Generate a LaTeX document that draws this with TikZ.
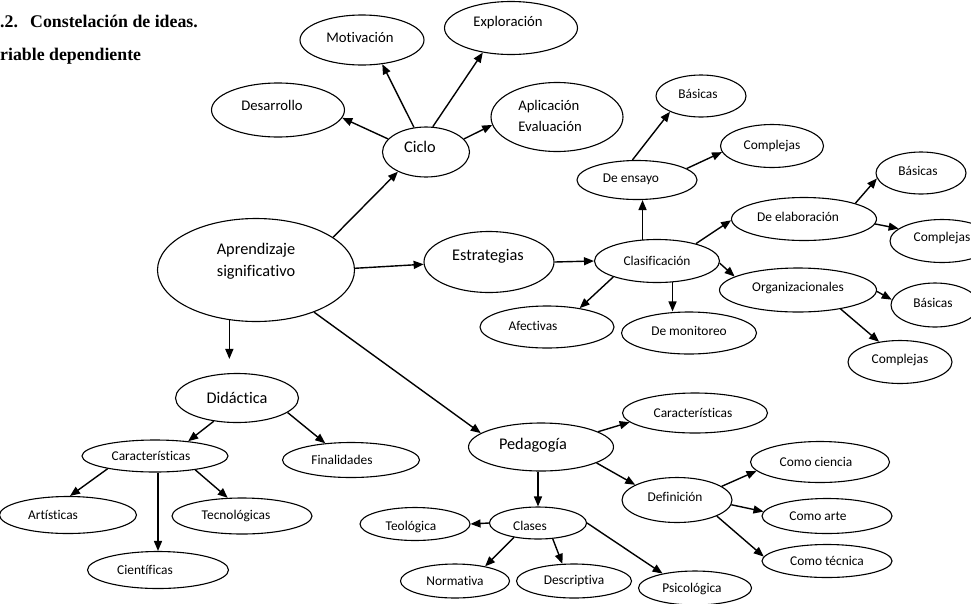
\documentclass[tikz,border=0pt]{standalone}
\usepackage{fontspec}
\setmainfont{Carlito}[Ligatures={NoCommon}]
\newfontfamily\titlefont{Liberation Serif}
\usetikzlibrary{shapes.geometric,arrows.meta}
\newcommand\txtsh[3]{\raisebox{#2pt}[\height][\depth]{\hspace*{#1pt}#3\hspace*{-#1pt}}}
\tikzset{
  el/.style={draw, ellipse, line width=1.1pt, inner sep=0pt},
  fb/.style={font=\fontsize{16.3}{22}\selectfont},
  fm/.style={font=\fontsize{14.7}{21}\selectfont},
  fs/.style={font=\fontsize{13.4}{16}\selectfont},
  ttl/.style={anchor=base west, inner sep=0pt, font=\titlefont\bfseries\fontsize{17.8}{20}\selectfont},
  arr/.style={-{Triangle[length=10pt,width=8pt]}, line width=1.4pt},
}
\begin{document}
\begin{tikzpicture}[x=1pt,y=-1pt]
\useasboundingbox (0,0) rectangle (971,603);
% title
\node[ttl] (t1a) at (0,27) {.2.};
\node[ttl] (t1b) at (30,27) {Constelación de ideas.};
\node[ttl] (t2) at (0,60) {riable dependiente};
% ciclo branch
\node[el,fm,minimum width=124,minimum height=50] (mot) at (362,40) {\txtsh{-2}{3}{Motivación}};
\node[el,fm,minimum width=133,minimum height=53] (exp) at (511,28) {\txtsh{-3}{5}{Exploración}};
\node[el,fm,minimum width=133,minimum height=54] (des) at (278,110) {\txtsh{-6}{5}{Desarrollo}};
\node[el,fm,minimum width=132,minimum height=69] (apl) at (557,117) {\txtsh{-7}{0}{\begin{tabular}{@{}l@{}}Aplicación\\Evaluación\end{tabular}}};
\node[el,fb,minimum width=87,minimum height=50] (cic) at (426,152) {\txtsh{-6}{5}{Ciclo}};
% central
\node[el,fb,minimum width=197,minimum height=103] (apr) at (256,270) {\txtsh{0}{9}{\begin{tabular}{@{}c@{}}Aprendizaje\\significativo\end{tabular}}};
% estrategias branch
\node[el,fb,minimum width=130,minimum height=61] (est) at (489,262) {\txtsh{-1}{6}{Estrategias}};
\node[el,fs,minimum width=125,minimum height=43] (cla) at (657,261) {Clasificación};
\node[el,fs,minimum width=120,minimum height=39] (ens) at (637,180) {\txtsh{-6}{1}{De ensayo}};
\node[el,fs,minimum width=90,minimum height=42] (bas1) at (701,96) {\txtsh{-3}{2}{Básicas}};
\node[el,fs,minimum width=103,minimum height=43] (com1) at (772,146) {Complejas};
\node[el,fs,minimum width=145,minimum height=43] (ela) at (804,219) {\txtsh{-6}{2}{De elaboración}};
\node[el,fs,minimum width=90,minimum height=42] (bas2) at (921,173) {\txtsh{-3}{2}{Básicas}};
\node[el,fs,minimum width=104,minimum height=43] (com2) at (942,241) {\txtsh{0}{3}{Complejas}};
\node[el,fs,minimum width=157,minimum height=44] (org) at (798,290) {\txtsh{0}{2}{Organizacionales}};
\node[el,fs,minimum width=88,minimum height=44] (bas3) at (935,305) {\txtsh{-2}{2}{Básicas}};
\node[el,fs,minimum width=104,minimum height=43] (com3) at (900,362) {\txtsh{0}{2}{Complejas}};
\node[el,fs,minimum width=134,minimum height=42] (afe) at (547,327) {\txtsh{-14}{1}{Afectivas}};
\node[el,fs,minimum width=135,minimum height=42] (mon) at (689,333) {\txtsh{0}{2}{De monitoreo}};
% didactica branch
\node[el,fb,minimum width=123,minimum height=49] (did) at (237,398) {Didáctica};
\node[el,fs,minimum width=146,minimum height=32] (car1) at (155,456) {\txtsh{-4}{0}{Características}};
\node[el,fs,minimum width=137,minimum height=35] (fin) at (351,460) {\txtsh{-9}{0}{Finalidades}};
\node[el,fs,minimum width=137,minimum height=37] (art) at (68,515) {\txtsh{-15}{0}{Artísticas}};
\node[el,fs,minimum width=140,minimum height=36] (tec) at (242,516) {\txtsh{-6}{0}{Tecnológicas}};
\node[el,fs,minimum width=141,minimum height=37] (cie) at (158,570) {\txtsh{-13}{0}{Científicas}};
% pedagogia branch
\node[el,fb,minimum width=145,minimum height=48] (ped) at (541,447) {\txtsh{-8}{2}{Pedagogía}};
\node[el,fs,minimum width=145,minimum height=40] (car2) at (695,413) {\txtsh{-2}{0}{Características}};
\node[el,fs,minimum width=110,minimum height=45] (defn) at (677,500) {\txtsh{-2}{3}{Definición}};
\node[el,fs,minimum width=97,minimum height=32] (cla2) at (538,523) {\txtsh{-8}{-3}{Clases}};
\node[el,fs,minimum width=110,minimum height=33] (teo) at (415,524) {\txtsh{-4}{-3}{Teológica}};
\node[el,fs,minimum width=109,minimum height=34] (nor) at (455,581) {Normativa};
\node[el,fs,minimum width=115,minimum height=34] (dsc) at (574,581) {Descriptiva};
\node[el,fs,minimum width=113,minimum height=34] (psi) at (695,588) {\txtsh{-3}{-1}{Psicológica}};
\node[el,fs,minimum width=139,minimum height=41] (cc) at (820,462) {\txtsh{-4}{0}{Como ciencia}};
\node[el,fs,minimum width=130,minimum height=35] (ca) at (827,516) {\txtsh{-9}{0}{Como arte}};
\node[el,fs,minimum width=130,minimum height=33] (ct) at (827,561) {Como técnica};
% connectors: ciclo
\draw[arr] (cic.161) -- (des.-7);
\draw[arr] (cic.116) -- (mot.-50);
\draw[arr] (cic.75) -- (exp.-139);
\draw[arr] (cic.19) -- (apl.-173);
% central
\draw[arr] (apr.23) -- (cic.-145);
\draw[arr] (apr.1) -- (est.-178);
\draw[arr] (apr.-36) -- (ped.167);
\draw[arr, shorten >=14pt] (apr.-118) -- (apr.-118 |- did.north);
% estrategias
\draw[arr] (est.east) -- (cla.west);
\draw[arr] (cla.124) -- (cla.124 |- ens.south);
\draw[arr] (ens.103) -- (bas1.-153);
\draw[arr] (ens.13) -- (com1.-173);
\draw[arr] (cla.24) -- (ela.181);
\draw[arr] (ela.17) -- (bas2.-173);
\draw[arr] (ela.-4) -- (com2.164);
\draw[arr] (cla.-2) -- (org.168);
\draw[arr] (cla.-160) -- (afe.30);
\draw[arr] (cla.-54) -- (cla.-54 |- mon.north);
\draw[arr] (org.-1) -- (bas3.173);
\draw[arr] (org.-24) -- (com3.136);
% didactica
\draw[arr] (did.-135) -- (car1.24);
\draw[arr] (did.-16) -- (fin.147);
\draw[arr] (car1.-165) -- (art.84);
\draw[arr] (car1.south -| cie.north) -- (cie.north);
\draw[arr] (car1.-19) -- (tec.128);
% pedagogia
\draw[arr] (ped.south -| cla2.north) -- (cla2.north);
\draw[arr] (cla2.west) -- (teo.east);
\draw[arr] (cla2.-149) -- (nor.26);
\draw[arr] (cla2.-47) -- (dsc.124);
\draw[arr] (cla2.east) -- (psi.156);
\draw[arr] (ped.15) -- (car2.-172);
\draw[arr] (ped.-16) -- (defn.160);
\draw[arr] (defn.17) -- (cc.-172);
\draw[arr] (defn.-5) -- (ca.176);
\draw[arr] (defn.-22) -- (ct.176);
\end{tikzpicture}
\end{document}
